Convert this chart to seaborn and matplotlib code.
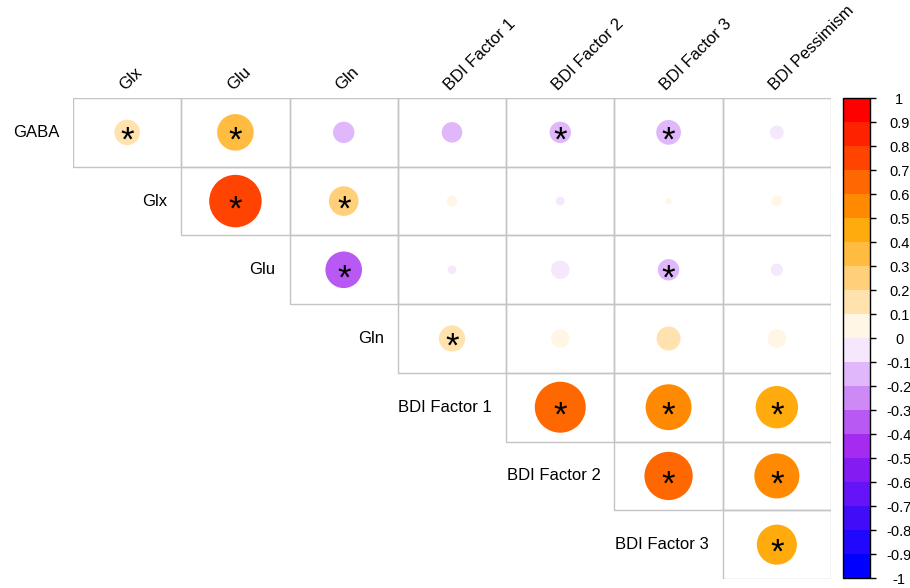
import numpy as np
import pandas as pd
import matplotlib
matplotlib.use("Agg")
import matplotlib.pyplot as plt
import seaborn as sns
from matplotlib.colors import LinearSegmentedColormap, ListedColormap, BoundaryNorm
from matplotlib.cm import ScalarMappable
from matplotlib.patches import Rectangle

# Variables (rows / columns of the upper-triangle correlation matrix)
row_names = ["GABA", "Glx", "Glu", "Gln", "BDI Factor 1", "BDI Factor 2", "BDI Factor 3"]
col_names = ["Glx", "Glu", "Gln", "BDI Factor 1", "BDI Factor 2", "BDI Factor 3", "BDI Pessimism"]

# Correlations per row; row i starts at column i
r_gaba = [0.17, 0.35, -0.12, -0.11, -0.12, -0.16, -0.05]
r_glx = [0.72, 0.23, 0.03, -0.02, 0.01, 0.03]
r_glu = [-0.35, -0.02, -0.09, -0.12, -0.04]
r_gln = [0.18, 0.09, 0.15, 0.09]
r_f1 = [0.68, 0.55, 0.47]
r_f2 = [0.61, 0.53]
r_f3 = [0.42]

# Significance flags (1 = marked with *)
sig_gaba = [1, 1, 0, 0, 1, 1, 0]
sig_glx = [1, 1, 0, 0, 0, 0]
sig_glu = [1, 0, 0, 1, 0]
sig_gln = [1, 0, 0, 0]
sig_f1 = [1, 1, 1]
sig_f2 = [1, 1]
sig_f3 = [1]

cbar_ticks = np.round(np.linspace(-1, 1, 21), 1) + 0.0

r_rows = [r_gaba, r_glx, r_glu, r_gln, r_f1, r_f2, r_f3]
sig_rows = [sig_gaba, sig_glx, sig_glu, sig_gln, sig_f1, sig_f2, sig_f3]

records = []
for i, (rv, sv) in enumerate(zip(r_rows, sig_rows)):
    for k, (r, s) in enumerate(zip(rv, sv)):
        records.append({"y": i, "x": i + k, "r": r, "absr": abs(r), "sig": s})
df = pd.DataFrame(records)

# 20-step diverging palette: blue - purple - white - orange - red
ramp = LinearSegmentedColormap.from_list(
    "ramp", ["#0000FF", "#A020F0", "#FFFFFF", "#FFA500", "#FF0000"])
cmap20 = ListedColormap([ramp(t) for t in np.linspace(0, 1, 20)])

sns.set_theme(style="white")
plt.rcParams["font.family"] = ["Liberation Sans", "DejaVu Sans"]

W, H = 910, 588
fig = plt.figure(figsize=(W / 100, H / 100), dpi=100)
x0, x1, y0, y1 = 73, 831, 98, 579
ax = fig.add_axes([x0 / W, 1 - y1 / H, (x1 - x0) / W, (y1 - y0) / H])
ax.set_xlim(-0.5, 6.5)
ax.set_ylim(6.5, -0.5)

# Cell frames
n = len(row_names)
for i in range(n):
    for j in range(i, n):
        ax.add_patch(Rectangle((j - 0.5, i - 0.5), 1, 1, fill=False,
                               edgecolor="#C4C4C4", lw=1.0, zorder=1))

# Circle area proportional to |r|; radius 0.45 of the cell height at |r| = 1
cell_h_pt = (y1 - y0) / n * 0.72
smax = (0.9 * cell_h_pt) ** 2
sns.scatterplot(data=df, x="x", y="y", hue="r", palette=cmap20, hue_norm=(-1, 1),
                size="absr", sizes=(0, smax), size_norm=(0, 1),
                linewidth=0, legend=False, ax=ax, zorder=2)

for _, row in df[df["sig"] == 1].iterrows():
    ax.text(row["x"], row["y"] + 0.13, "*", ha="center", va="center",
            fontsize=25, color="black", zorder=3)

ax.set_axis_off()

# Row labels to the left of each row's first cell
for i, name in enumerate(row_names):
    ax.annotate(name, xy=(i - 0.5, i), xytext=(-14, 0), textcoords="offset pixels",
                ha="right", va="center", fontsize=12, color="black",
                annotation_clip=False)

# Rotated column labels
for j, name in enumerate(col_names):
    ax.annotate(name, xy=(j, -0.5), xytext=(0, 5), textcoords="offset pixels",
                rotation=45, rotation_mode="anchor", ha="left", va="bottom",
                fontsize=12, color="black", annotation_clip=False)

# Color legend
cax = fig.add_axes([843 / W, 1 - 578 / H, 27 / W, (578 - 98) / H])
norm = BoundaryNorm(np.linspace(-1, 1, 21), 20)
cb = fig.colorbar(ScalarMappable(norm=norm, cmap=cmap20), cax=cax, ticks=cbar_ticks)
cb.outline.set_linewidth(1.0)
cb.outline.set_edgecolor("black")
cax.set_yticklabels([f"{v:g}" for v in cbar_ticks])
cax.tick_params(axis="y", length=4, width=1, pad=17, labelsize=10.5, colors="black")
for lbl in cax.get_yticklabels():
    lbl.set_horizontalalignment("center")

fig.savefig("out.png", dpi=100, facecolor="white")
